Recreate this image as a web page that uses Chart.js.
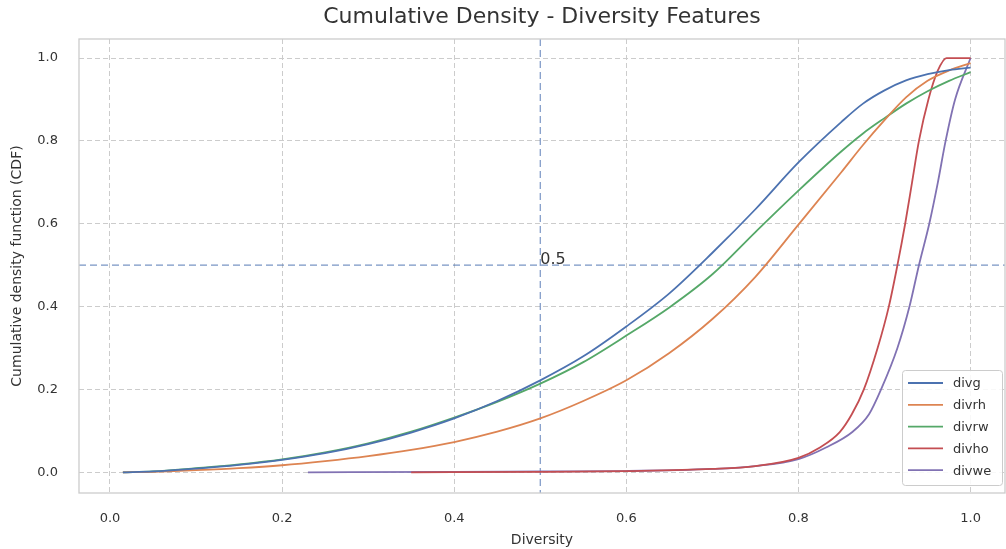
<!DOCTYPE html>
<html>
<head>
<meta charset="utf-8">
<script src="https://cdn.jsdelivr.net/npm/chart.js@4.4.1/dist/chart.umd.min.js"></script>
<style>
html, body { margin: 0; padding: 0; background: #fff; }
</style>
</head>
<body>
<canvas id="cdf" width="1006" height="549"></canvas>
<script>
// series
var seriesNames = ['divg', 'divrh', 'divrw', 'divho', 'divwe'];
var seriesColors = ['#4c72b0', '#dd8452', '#55a868', '#c44e52', '#8172b3'];

var baseX = [0.015, 0.05, 0.1, 0.15, 0.2, 0.25, 0.3, 0.35, 0.4, 0.45, 0.5, 0.55, 0.6, 0.65, 0.7, 0.75, 0.8, 0.85, 0.875, 0.9, 0.925, 0.95, 0.975, 1.0];
var divg  = [0, 0.002, 0.009, 0.018, 0.03, 0.046, 0.068, 0.096, 0.13, 0.172, 0.222, 0.28, 0.352, 0.432, 0.53, 0.635, 0.748, 0.846, 0.89, 0.922, 0.946, 0.961, 0.971, 0.977];
var divrh = [0, 0.001, 0.005, 0.01, 0.017, 0.027, 0.039, 0.054, 0.073, 0.098, 0.13, 0.172, 0.222, 0.288, 0.37, 0.472, 0.598, 0.725, 0.79, 0.85, 0.905, 0.945, 0.97, 0.988];
var divrw = [0, 0.002, 0.01, 0.019, 0.031, 0.048, 0.07, 0.098, 0.132, 0.17, 0.214, 0.266, 0.33, 0.398, 0.478, 0.58, 0.68, 0.775, 0.818, 0.855, 0.89, 0.92, 0.945, 0.966];

var divhoX = [0.35, 0.5, 0.6, 0.7, 0.75, 0.8, 0.825, 0.848, 0.862, 0.876, 0.892, 0.905, 0.915, 0.924, 0.932, 0.94, 0.951, 0.962, 0.972, 1.0];
var divho  = [0, 0.001, 0.003, 0.008, 0.015, 0.035, 0.06, 0.097, 0.14, 0.2, 0.3, 0.4, 0.5, 0.6, 0.7, 0.8, 0.9, 0.97, 1.0, 1.0];

var divweX = [0.23, 0.4, 0.5, 0.6, 0.7, 0.75, 0.8, 0.832, 0.863, 0.882, 0.896, 0.915, 0.929, 0.94, 0.952, 0.962, 0.971, 0.982, 1.0];
var divwe  = [0, 0.001, 0.002, 0.003, 0.008, 0.015, 0.032, 0.06, 0.098, 0.14, 0.2, 0.3, 0.4, 0.5, 0.6, 0.7, 0.8, 0.9, 1.0];

var xTicks = [0, 0.2, 0.4, 0.6, 0.8, 1.0];
var yTicks = [0, 0.2, 0.4, 0.6, 0.8, 1.0];
var refValue = 0.5;

var FONT = '"DejaVu Sans", sans-serif';
var TEXT = '#333333';

function pts(xs, ys) {
    return xs.map(function (x, i) { return { x: x, y: ys[i] }; });
}

var allX = [baseX, baseX, baseX, divhoX, divweX];
var allY = [divg, divrh, divrw, divho, divwe];

var datasets = seriesNames.map(function (name, i) {
    return {
        label: name,
        data: pts(allX[i], allY[i]),
        borderColor: seriesColors[i],
        backgroundColor: seriesColors[i],
        borderWidth: 1.8,
        pointRadius: 0,
        cubicInterpolationMode: 'monotone',
        fill: false
    };
});

// dashed blue reference lines at 0.5 and the label
var refLines = {
    id: 'refLines',
    beforeDatasetsDraw: function (chart) {
        var c = chart.ctx, a = chart.chartArea;
        var px = chart.scales.x.getPixelForValue(refValue);
        var py = chart.scales.y.getPixelForValue(refValue);
        c.save();
        c.strokeStyle = 'rgba(76, 114, 176, 0.75)';
        c.lineWidth = 1.2;
        c.setLineDash([7, 4]);
        c.beginPath();
        c.moveTo(px, a.top); c.lineTo(px, a.bottom);
        c.moveTo(a.left, py); c.lineTo(a.right, py);
        c.stroke();
        c.setLineDash([]);
        c.fillStyle = TEXT;
        c.font = '16px ' + FONT;
        c.textAlign = 'left';
        c.textBaseline = 'alphabetic';
        c.fillText('0.5', px, py - 1);
        c.restore();
    }
};

// light grey frame round the plot
var frame = {
    id: 'frame',
    afterDatasetsDraw: function (chart) {
        var c = chart.ctx, a = chart.chartArea;
        c.save();
        c.strokeStyle = '#cccccc';
        c.lineWidth = 1.3;
        c.strokeRect(a.left, a.top, a.right - a.left, a.bottom - a.top);
        c.restore();
    }
};

// legend box in lower right of the plot
var legendBox = {
    id: 'legendBox',
    afterDraw: function (chart) {
        var c = chart.ctx, a = chart.chartArea;
        var w = 100, h = 115;
        var left = a.right - 3 - w, top = a.bottom - 8 - h;
        c.save();
        c.fillStyle = 'rgba(255,255,255,0.85)';
        c.strokeStyle = '#cccccc';
        c.lineWidth = 1;
        c.beginPath();
        c.roundRect(left + 0.5, top + 0.5, w, h, 3);
        c.fill();
        c.stroke();
        c.font = '13px ' + FONT;
        c.textAlign = 'left';
        c.textBaseline = 'middle';
        chart.data.datasets.forEach(function (ds, i) {
            var y = top + 13 + i * 21.8;
            c.strokeStyle = ds.borderColor;
            c.lineWidth = 1.8;
            c.beginPath();
            c.moveTo(left + 6, y); c.lineTo(left + 41, y);
            c.stroke();
            c.fillStyle = TEXT;
            c.fillText(ds.label, left + 51, y + 1);
        });
        c.restore();
    }
};

var gridOpts = {
    color: '#cccccc',
    lineWidth: 1,
    drawTicks: false
};

new Chart(document.getElementById('cdf'), {
    type: 'line',
    data: { datasets: datasets },
    options: {
        responsive: false,
        animation: false,
        devicePixelRatio: 1,
        layout: { padding: { left: 0, right: 1, top: 0, bottom: 0 } },
        plugins: {
            legend: { display: false },
            tooltip: { enabled: false },
            title: {
                display: true,
                text: 'Cumulative Density - Diversity Features',
                fullSize: false,
                color: TEXT,
                font: { family: FONT, size: 22, weight: 'normal', lineHeight: 1.2 },
                padding: { top: 4, bottom: 8.6 }
            }
        },
        scales: {
            x: {
                type: 'linear',
                min: -0.036,
                max: 1.04,
                afterBuildTicks: function (s) { s.ticks = xTicks.map(function (v) { return { value: v }; }); },
                afterFit: function (s) { s.height = 56; s.paddingLeft = 0; s.paddingRight = 0; },
                grid: gridOpts,
                border: { display: false, dash: [5, 3] },
                ticks: {
                    color: TEXT,
                    padding: 18,
                    font: { family: FONT, size: 13 },
                    callback: function (v) { return v.toFixed(1); }
                },
                title: {
                    display: true,
                    text: 'Diversity',
                    color: TEXT,
                    font: { family: FONT, size: 14 },
                    padding: { top: 0, bottom: 0 }
                }
            },
            y: {
                type: 'linear',
                min: -0.05,
                max: 1.046,
                afterBuildTicks: function (s) { s.ticks = yTicks.map(function (v) { return { value: v }; }); },
                afterFit: function (s) { s.width = 79; },
                grid: gridOpts,
                border: { display: false, dash: [5, 3] },
                ticks: {
                    color: TEXT,
                    padding: 21,
                    font: { family: FONT, size: 13 },
                    callback: function (v) { return v.toFixed(1); }
                },
                title: {
                    display: true,
                    text: 'Cumulative density function (CDF)',
                    color: TEXT,
                    font: { family: FONT, size: 14 },
                    padding: { top: 9, bottom: 0 }
                }
            }
        }
    },
    plugins: [refLines, frame, legendBox]
});
</script>
</body>
</html>
